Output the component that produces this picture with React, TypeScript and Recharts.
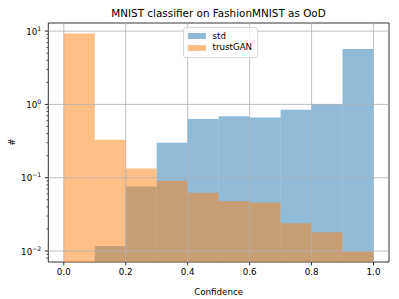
import {
  Bar,
  ComposedChart,
  Legend,
  ReferenceArea,
  ReferenceLine,
  XAxis,
  YAxis,
} from 'recharts';

// histogram bins (centres of 0.1 wide bins)
const binCenters = [0.05, 0.15, 0.25, 0.35, 0.45, 0.55, 0.65, 0.75, 0.85, 0.95];
const stdCounts = [null, 0.0117, 0.076, 0.3, 0.63, 0.69, 0.665, 0.845, 1.01, 5.7];
const trustGANCounts = [9.3, 0.33, 0.134, 0.091, 0.0625, 0.048, 0.046, 0.024, 0.018, 0.0098];

const xTicks = [0, 0.2, 0.4, 0.6, 0.8, 1.0];
const majorYTicks = [0.01, 0.1, 1, 10];
const minorYTicks = [
  0.008, 0.009,
  0.02, 0.03, 0.04, 0.05, 0.06, 0.07, 0.08, 0.09,
  0.2, 0.3, 0.4, 0.5, 0.6, 0.7, 0.8, 0.9,
  2, 3, 4, 5, 6, 7, 8, 9,
];

const X_DOMAIN: [number, number] = [-0.05, 1.05];
const Y_DOMAIN: [number, number] = [0.00708, 12.9];

const data = binCenters.map((c, i) => ({
  center: c,
  std: stdCounts[i],
  trustGAN: trustGANCounts[i],
}));

const FONT = '"DejaVu Sans", sans-serif';
const GRID = '#b0b0b0';

const LogTick = (props: any) => {
  const { x, y, payload } = props;
  const v = payload.value;
  const major = majorYTicks.some((m) => Math.abs(m - v) < 1e-9);
  if (!major) {
    return <line x1={x} x2={x - 2} y1={y} y2={y} stroke="#000" strokeWidth={0.6} />;
  }
  const exp = Math.round(Math.log10(v));
  const expText = exp < 0 ? `\u2212${-exp}` : `${exp}`;
  return (
    <g>
      <line x1={x} x2={x - 3.5} y1={y} y2={y} stroke="#000" strokeWidth={0.8} />
      <text x={x - 7} y={y + 3.5} textAnchor="end" fontSize={8.7} fontFamily={FONT} fill="#000">
        <tspan>10</tspan>
        <tspan dy={-4} fontSize={6.2}>{expText}</tspan>
      </text>
    </g>
  );
};

const LegendBox = () => (
  <div
    style={{
      border: '1px solid #d9d9d9',
      borderRadius: 3,
      background: 'rgba(255,255,255,0.8)',
      padding: '3px 5px 3px 4px',
      fontFamily: FONT,
      fontSize: 8.7,
      lineHeight: '11.5px',
      color: '#000',
    }}
  >
    {[
      { name: 'std', color: '#1f77b4' },
      { name: 'trustGAN', color: '#ff7f0e' },
    ].map((it) => (
      <div key={it.name} style={{ display: 'flex', alignItems: 'center' }}>
        <span
          style={{
            display: 'inline-block',
            width: 17.5,
            height: 6,
            background: it.color,
            opacity: 0.5,
            marginRight: 7,
          }}
        />
        {it.name}
      </div>
    ))}
  </div>
);

export default function App() {
  return (
    <div style={{ position: 'fixed', left: 0, top: 0, width: 399, height: 299, background: '#fff' }}>
      <div
        style={{
          position: 'absolute',
          left: 48,
          width: 341,
          top: 7,
          textAlign: 'center',
          fontFamily: FONT,
          fontSize: 10.4,
          color: '#000',
          zIndex: 2,
        }}
      >
        MNIST classifier on FashionMNIST as OoD
      </div>
      <div
        style={{
          position: 'absolute',
          left: 8,
          top: 137,
          fontFamily: FONT,
          fontSize: 8.7,
          transform: 'rotate(-90deg)',
          color: '#000',
          zIndex: 2,
        }}
      >
        #
      </div>
      <ComposedChart
        width={399}
        height={299}
        data={data}
        margin={{ top: 23, right: 10, left: 0, bottom: 0 }}
        barCategoryGap={0}
        barGap={0}
      >
        <XAxis
          type="number"
          dataKey="center"
          domain={X_DOMAIN}
          allowDataOverflow
          ticks={xTicks}
          interval={0}
          tickFormatter={(v: number) => v.toFixed(1)}
          axisLine={false}
          tickLine={{ stroke: '#000', strokeWidth: 0.8 }}
          tickSize={3.5}
          tickMargin={3.8}
          height={37}
          tick={{ fontSize: 8.7, fontFamily: FONT, fill: '#000' }}
          label={{
            value: 'Confidence',
            position: 'insideBottom',
            offset: 4,
            fontSize: 8.7,
            fontFamily: FONT,
            fill: '#000',
          }}
        />
        <XAxis xAxisId="b" type="number" dataKey="center" domain={X_DOMAIN} allowDataOverflow hide />
        <YAxis
          scale="log"
          type="number"
          domain={Y_DOMAIN}
          allowDataOverflow
          ticks={[...majorYTicks, ...minorYTicks].sort((a, b) => a - b)}
          interval={0}
          width={48.3}
          axisLine={false}
          tickLine={false}
          tickSize={0}
          tickMargin={0}
          tick={<LogTick />}
        />
        <Bar dataKey="std" fill="#1f77b4" fillOpacity={0.5} isAnimationActive={false} />
        <Bar xAxisId="b" dataKey="trustGAN" fill="#ff7f0e" fillOpacity={0.5} isAnimationActive={false} />
        {xTicks.map((t) => (
          <ReferenceLine key={`gx${t}`} x={t} stroke={GRID} strokeWidth={0.8} />
        ))}
        {majorYTicks.map((t) => (
          <ReferenceLine key={`gy${t}`} y={t} stroke={GRID} strokeWidth={0.8} />
        ))}
        <ReferenceArea
          x1={X_DOMAIN[0]}
          x2={X_DOMAIN[1]}
          y1={Y_DOMAIN[0]}
          y2={Y_DOMAIN[1]}
          fill="none"
          fillOpacity={0}
          stroke="#000"
          strokeWidth={0.8}
          ifOverflow="visible"
        />
        <Legend
          layout="horizontal"
          verticalAlign="middle"
          align="center"
          content={<LegendBox />}
          wrapperStyle={{ left: 183, top: 26.5, width: 'auto' }}
        />
      </ComposedChart>
    </div>
  );
}
